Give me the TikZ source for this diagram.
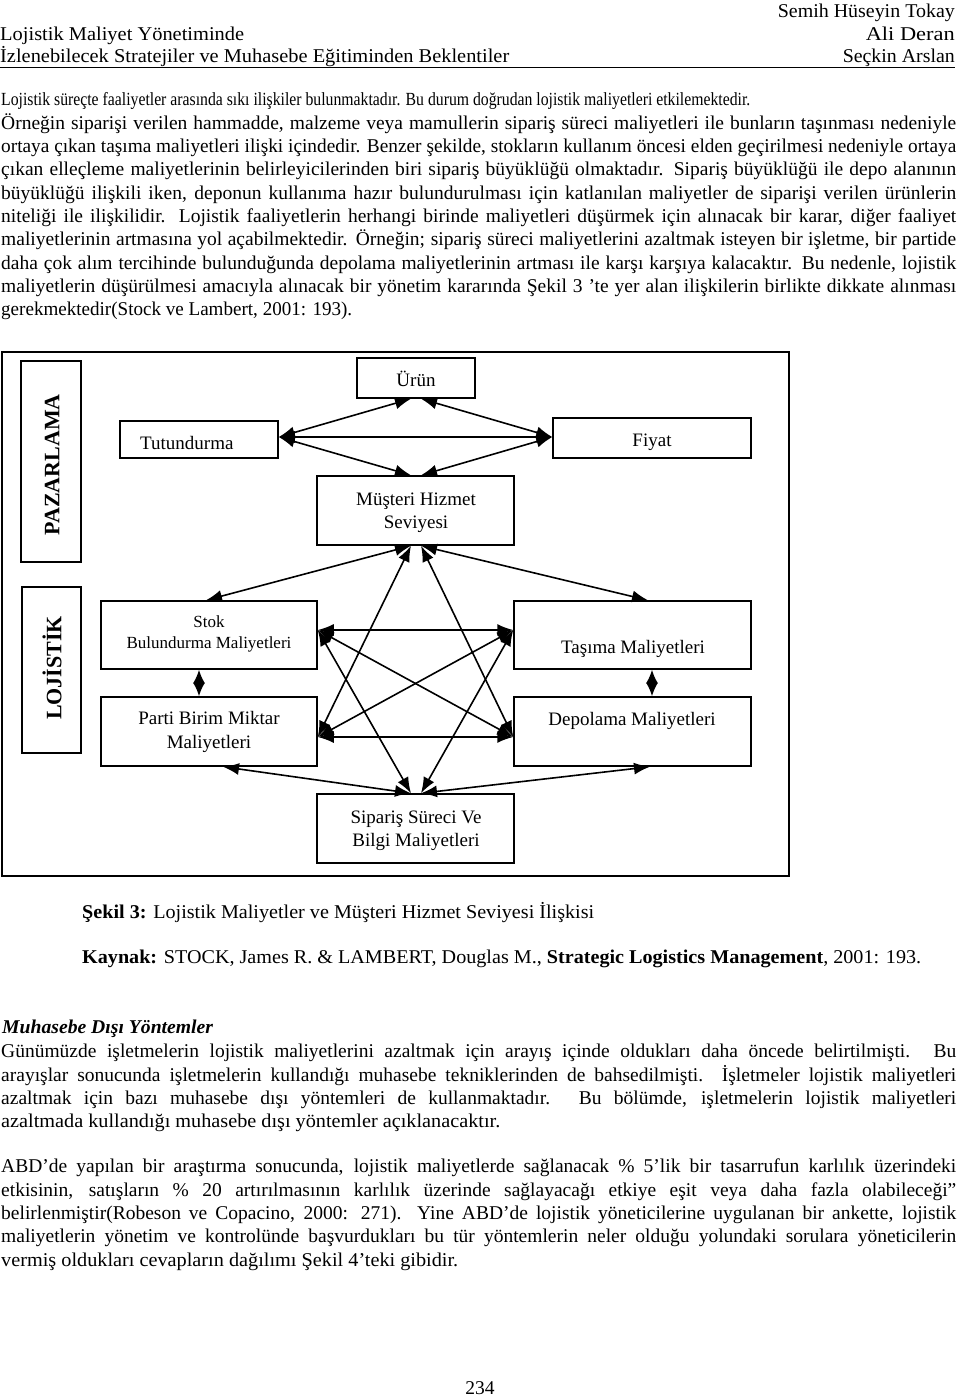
\documentclass[tikz,border=0pt]{standalone}
\usepackage{fontspec}
\usepackage{graphicx}
\setmainfont{Liberation Serif}
\usetikzlibrary{arrows.meta}
\newsavebox\lnbox
\newcommand{\fitw}[2]{\resizebox{#1pt}{\height}{#2}}
\newcommand{\jline}[1]{\sbox\lnbox{#1}\ifdim\wd\lnbox>955pt\resizebox{955pt}{\height}{\usebox\lnbox}\else\hbox to 955pt{#1}\fi}
\begin{document}
\begin{tikzpicture}[x=1pt,y=-1pt,
  txt/.style={inner sep=0pt, anchor=base west, font=\fontsize{19.5}{23}\selectfont},
  txtr/.style={txt, anchor=base east},
  box/.style={draw, line width=1.5pt, inner sep=0pt},
  dtext/.style={inner sep=0pt, font=\fontsize{19}{23}\selectfont, anchor=base},
  stext/.style={inner sep=0pt, font=\fontsize{17}{21}\selectfont, anchor=base},
  side/.style={inner sep=0pt, rotate=90, font=\bfseries\fontsize{22}{26}\selectfont},
  link/.style={line width=1.6pt, {Latex[length=16pt,width=12pt]}-{Latex[length=16pt,width=12pt]}},
  vlink/.style={line width=1.6pt, {Latex[length=13.5pt,width=12pt]}-{Latex[length=13.5pt,width=12pt]}},
]
\fill[white] (0,0) rectangle (960,1399);
\useasboundingbox (0,0) rectangle (960,1399);

% header
\node[txtr] (h1) at (955,18) {\fitw{177}{Semih Hüseyin Tokay}};
\node[txt] (h2) at (0,41) {\fitw{244}{Lojistik Maliyet Yönetiminde}};
\node[txtr] (h3) at (955,41) {\fitw{89}{Ali Deran}};
\node[txt] (h4) at (0,63) {\fitw{509}{İzlenebilecek Stratejiler ve Muhasebe Eğitiminden Beklentiler}};
\node[txtr] (h5) at (955,63) {\fitw{112}{Seçkin Arslan}};
\draw[line width=1pt] (0,68) -- (955,68);

% paragraph 1
\node[txt] (p1) at (1,106) {\resizebox{749pt}{0.95\height}{Lojistik süreçte faaliyetler arasında sıkı ilişkiler bulunmaktadır. Bu durum doğrudan lojistik maliyetleri etkilemektedir.}};
\node[txt] (p2) at (1,129.3) {\jline{Örneğin siparişi verilen hammadde, malzeme veya mamullerin sipariş süreci maliyetleri ile bunların taşınması nedeniyle}};
\node[txt] (p3) at (1,152.6) {\jline{ortaya çıkan taşıma maliyetleri ilişki içindedir. Benzer şekilde, stokların kullanım öncesi elden geçirilmesi nedeniyle ortaya}};
\node[txt] (p4) at (1,175.9) {\jline{çıkan elleçleme maliyetlerinin belirleyicilerinden biri sipariş büyüklüğü olmaktadır. Sipariş büyüklüğü ile depo alanının}};
\node[txt] (p5) at (1,199.2) {\jline{büyüklüğü ilişkili iken, deponun kullanıma hazır bulundurulması için katlanılan maliyetler de siparişi verilen ürünlerin}};
\node[txt] (p6) at (1,222.5) {\jline{niteliği ile ilişkilidir. Lojistik faaliyetlerin herhangi birinde maliyetleri düşürmek için alınacak bir karar, diğer faaliyet}};
\node[txt] (p7) at (1,245.8) {\jline{maliyetlerinin artmasına yol açabilmektedir. Örneğin; sipariş süreci maliyetlerini azaltmak isteyen bir işletme, bir partide}};
\node[txt] (p8) at (1,269.1) {\jline{daha çok alım tercihinde bulunduğunda depolama maliyetlerinin artması ile karşı karşıya kalacaktır. Bu nedenle, lojistik}};
\node[txt] (p9) at (1,292.4) {\jline{maliyetlerin düşürülmesi amacıyla alınacak bir yönetim kararında Şekil 3 ’te yer alan ilişkilerin birlikte dikkate alınması}};
\node[txt] (p10) at (1,315.7) {\fitw{351}{gerekmektedir(Stock ve Lambert, 2001: 193).}};

% diagram frame and side labels
\node[box, line width=1.7pt, minimum width=787pt, minimum height=524pt] (frame) at (395.5,614) {};
\node[box, minimum width=60pt, minimum height=201pt] (paz) at (51,461.5) {};
\node[side] (pazt) at (52,465) {PAZARLAMA};
\node[box, minimum width=59pt, minimum height=166pt] (loj) at (51.5,670) {};
\node[side] (lojt) at (52,668) {LOJİSTİK};

% boxes
\node[box, minimum width=118pt, minimum height=40pt] (urun) at (416,378) {};
\node[dtext] (urunt) at (416,386) {Ürün};
\node[box, minimum width=158pt, minimum height=37pt] (tut) at (199,439.5) {};
\node[dtext, anchor=base west] (tutt) at (140,449) {Tutundurma};
\node[box, minimum width=198pt, minimum height=40pt] (fiy) at (652,438) {};
\node[dtext] (fiyt) at (652,446) {Fiyat};
\node[box, minimum width=197pt, minimum height=69pt] (mus) at (415.5,510.5) {};
\node[dtext] (must1) at (416,505) {Müşteri Hizmet};
\node[dtext] (must2) at (416,528) {Seviyesi};
\node[box, minimum width=216pt, minimum height=68pt] (stok) at (209,635) {};
\node[stext] (stokt1) at (209,627) {Stok};
\node[stext] (stokt2) at (209,648) {Bulundurma Maliyetleri};
\node[box, minimum width=216pt, minimum height=69pt] (parti) at (209,731.5) {};
\node[dtext] (partit1) at (209,724) {Parti Birim Miktar};
\node[dtext] (partit2) at (209,748) {Maliyetleri};
\node[box, minimum width=237pt, minimum height=68pt] (tas) at (632.5,635) {};
\node[dtext] (tast) at (633,653) {Taşıma Maliyetleri};
\node[box, minimum width=237pt, minimum height=69pt] (dep) at (632.5,731.5) {};
\node[dtext] (dept) at (632,725) {Depolama Maliyetleri};
\node[box, minimum width=197pt, minimum height=69pt] (sip) at (415.5,828.5) {};
\node[dtext] (sipt1) at (416,823) {Sipariş Süreci Ve};
\node[dtext] (sipt2) at (416,846) {Bilgi Maliyetleri};

% connectors: marketing
\draw[link] ([yshift=2.5pt]tut.east) -- ([xshift=-5pt]urun.south);
\draw[link] ([yshift=2.5pt]tut.east) -- ([yshift=1pt]fiy.west);
\draw[link] ([yshift=2.5pt]tut.east) -- ([xshift=-4.5pt]mus.north);
\draw[link] ([yshift=1pt]fiy.west) -- ([xshift=5pt]urun.south);
\draw[link] ([yshift=1pt]fiy.west) -- ([xshift=5.5pt]mus.north);
% connectors: service level to logistics
\draw[link] ([xshift=-4.5pt]mus.south) -- ([xshift=-3pt]stok.north);
\draw[link] ([xshift=-4.5pt]mus.south) -- ([yshift=-5.5pt]parti.east);
\draw[link] ([xshift=5.5pt]mus.south) -- ([xshift=15.5pt]tas.north);
\draw[link] ([xshift=5.5pt]mus.south) -- ([yshift=-5.5pt]dep.west);
% connectors: order process
\draw[link] ([xshift=-4.5pt]sip.north) -- ([xshift=14pt]parti.south);
\draw[link] ([xshift=-4.5pt]sip.north) -- ([yshift=5pt]stok.east);
\draw[link] ([xshift=5.5pt]sip.north) -- ([xshift=17.5pt]dep.south);
\draw[link] ([xshift=5.5pt]sip.north) -- ([yshift=5pt]tas.west);
% connectors: among costs
\draw[link] ([yshift=5pt]stok.east) -- ([yshift=5pt]tas.west);
\draw[link] ([yshift=5pt]stok.east) -- ([yshift=-5.5pt]dep.west);
\draw[link] ([yshift=-5.5pt]parti.east) -- ([yshift=-5.5pt]dep.west);
\draw[link] ([yshift=-5.5pt]parti.east) -- ([yshift=5pt]tas.west);
\draw[vlink] ([xshift=-10pt]stok.south) -- ([xshift=-10pt]parti.north);
\draw[vlink] ([xshift=19.5pt]tas.south) -- ([xshift=19.5pt]dep.north);

% caption
\node[txt] (cap1) at (82,918) {\fitw{512}{\textbf{Şekil 3:} Lojistik Maliyetler ve Müşteri Hizmet Seviyesi İlişkisi}};
\node[txt] (cap2) at (82,963) {\fitw{839}{\textbf{Kaynak:} STOCK, James R. \& LAMBERT, Douglas M., \textbf{Strategic Logistics Management}, 2001: 193.}};

% section
\node[txt] (s0) at (2,1033) {\fitw{211}{\textbf{\textit{Muhasebe Dışı Yöntemler}}}};
\node[txt] (s1) at (1,1057) {\jline{Günümüzde işletmelerin lojistik maliyetlerini azaltmak için arayış içinde oldukları daha öncede belirtilmişti. Bu}};
\node[txt] (s2) at (1,1081) {\jline{arayışlar sonucunda işletmelerin kullandığı muhasebe tekniklerinden de bahsedilmişti. İşletmeler lojistik maliyetleri}};
\node[txt] (s3) at (1,1104) {\jline{azaltmak için bazı muhasebe dışı yöntemleri de kullanmaktadır. Bu bölümde, işletmelerin lojistik maliyetleri}};
\node[txt] (s4) at (1,1127) {\fitw{499}{azaltmada kullandığı muhasebe dışı yöntemler açıklanacaktır.}};

\node[txt] (a1) at (1,1172) {\jline{ABD’de yapılan bir araştırma sonucunda, lojistik maliyetlerde sağlanacak \% 5’lik bir tasarrufun karlılık üzerindeki}};
\node[txt] (a2) at (1,1196) {\jline{etkisinin, satışların \% 20 artırılmasının karlılık üzerinde sağlayacağı etkiye eşit veya daha fazla olabileceği”}};
\node[txt] (a3) at (1,1219) {\jline{belirlenmiştir(Robeson ve Copacino, 2000: 271). Yine ABD’de lojistik yöneticilerine uygulanan bir ankette, lojistik}};
\node[txt] (a4) at (1,1242) {\jline{maliyetlerin yönetim ve kontrolünde başvurdukları bu tür yöntemlerin neler olduğu yolundaki sorulara yöneticilerin}};
\node[txt] (a5) at (1,1266) {\fitw{457}{vermiş oldukları cevapların dağılımı Şekil 4’teki gibidir.}};

\node[txt, anchor=base] (pg) at (480,1394) {234};
\end{tikzpicture}
\end{document}
